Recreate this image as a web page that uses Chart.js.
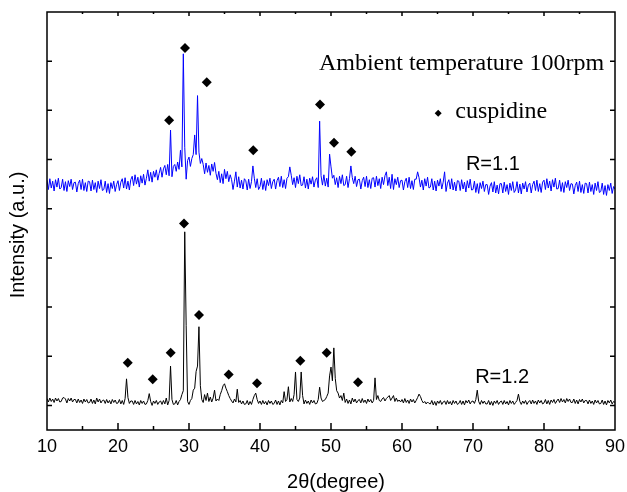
<!DOCTYPE html>
<html>
<head>
<meta charset="utf-8">
<script src="https://cdn.jsdelivr.net/npm/chart.js@4"></script>
<style>
  html, body { margin: 0; padding: 0; background: #fff; }
  canvas { display: block; }
</style>
</head>
<body>
<canvas id="xrdChart" width="627" height="492"></canvas>
<script>
// 2theta grid: 10 to 90 degrees, step 0.2
const startAngle = 10;
const stepAngle = 0.2;

// R=1.2 (black, lower pattern), 2 degrees per row
const r12 = [
  .14,.07,.15,.08,.13,.06,.15,.09,.14,.07,
  .08,.15,.16,.13,.05,.14,.09,.15,.07,.12,
  .12,.05,.13,.06,.11,.04,.13,.07,.12,.05,
  .06,.13,.04,.11,.03,.15,.07,.13,.05,.10,
  .11,.04,.12,.05,.10,.03,.12,.06,.11,.04,
  .05,.12,.03,.10,.02,.14,.54,.16,.04,.09,
  .09,.02,.10,.03,.08,.01,.10,.04,.09,.02,
  .03,.10,.24,.08,.00,.09,.04,.10,.02,.07,
  .09,.02,.10,.03,.15,.01,.10,.80,.12,.02,
  .03,.10,.01,.08,.12,.22,.30,3.53,1.63,.08,
  .02,.10,.14,.31,.35,.69,.80,1.60,.40,.12,
  .06,.22,.10,.25,.08,.17,.07,.15,.31,.09,
  .13,.10,.22,.30,.40,.44,.35,.28,.20,.14,
  .09,.05,.13,.07,.33,.06,.10,.03,.09,.02,
  .03,.10,.01,.08,.02,.12,.20,.25,.12,.04,
  .09,.02,.10,.03,.08,.01,.10,.04,.09,.02,
  .04,.11,.02,.09,.01,.10,.05,.28,.08,.12,
  .38,.07,.14,.08,.22,.68,.12,.08,.15,.68,
  .20,.03,.11,.04,.09,.02,.11,.05,.10,.03,
  .04,.12,.37,.15,.08,.10,.12,.18,.25,.60,
  .78,.50,1.17,.55,.30,.25,.15,.20,.10,.25,
  .06,.13,.04,.11,.03,.15,.07,.13,.05,.10,
  .12,.05,.14,.06,.11,.04,.13,.07,.12,.05,
  .10,.56,.12,.20,.10,.08,.13,.16,.09,.14,
  .17,.20,.10,.15,.20,.08,.15,.08,.11,.07,
  .12,.05,.14,.06,.11,.04,.13,.07,.12,.05,
  .10,.16,.23,.18,.10,.05,.08,.03,.07,.04,
  .03,.10,.01,.08,.00,.09,.04,.10,.02,.07,
  .09,.02,.10,.03,.08,.01,.10,.04,.09,.02,
  .04,.10,.02,.09,.01,.10,.05,.11,.03,.08,
  .09,.04,.12,.31,.08,.02,.10,.04,.09,.03,
  .03,.10,.01,.08,.00,.09,.04,.10,.02,.07,
  .09,.02,.10,.03,.08,.01,.10,.04,.09,.02,
  .06,.10,.23,.08,.02,.09,.04,.10,.02,.07,
  .10,.03,.11,.04,.09,.02,.11,.05,.10,.03,
  .05,.12,.03,.10,.02,.11,.06,.12,.04,.09,
  .13,.06,.14,.07,.12,.05,.14,.08,.13,.06,
  .06,.13,.04,.11,.03,.12,.07,.13,.05,.10,
  .10,.03,.11,.04,.09,.02,.11,.05,.10,.03,
  .04,.11,.02,.09,.01,.10,.05,.11,.03,.08,
  .06
];

// R=1.1 (blue, upper pattern, offset)
const r11 = [
  4.58,4.39,4.61,4.42,4.56,4.36,4.59,4.44,4.62,4.40,
  4.43,4.60,4.37,4.55,4.35,4.57,4.45,4.60,4.39,4.53,
  4.54,4.34,4.51,4.58,4.39,4.60,4.37,4.53,4.35,4.56,
  4.55,4.36,4.58,4.39,4.53,4.33,4.56,4.41,4.59,4.37,
  4.39,4.56,4.33,4.51,4.31,4.53,4.41,4.56,4.35,4.49,
  4.57,4.37,4.54,4.61,4.42,4.63,4.40,4.56,4.38,4.59,
  4.66,4.47,4.69,4.50,4.64,4.44,4.67,4.52,4.70,4.48,
  4.62,4.79,4.56,4.74,4.54,4.76,4.64,4.79,4.58,4.72,
  4.84,4.64,4.81,4.88,4.69,4.90,4.67,5.60,4.65,4.86,
  4.90,4.76,4.95,4.80,5.19,4.85,7.15,5.25,4.60,4.98,
  5.05,4.86,5.02,5.10,5.50,5.10,6.30,5.15,4.92,5.02,
  4.90,4.71,4.93,4.74,4.88,4.68,4.91,4.76,4.94,4.72,
  4.59,4.76,4.53,4.71,4.51,4.80,4.61,4.76,4.55,4.69,
  4.59,4.39,4.56,4.75,4.44,4.65,4.42,4.58,4.40,4.61,
  4.57,4.38,4.60,4.41,4.55,4.87,4.62,4.43,4.61,4.39,
  4.45,4.62,4.39,4.57,4.37,4.59,4.47,4.62,4.41,4.55,
  4.60,4.40,4.57,4.64,4.45,4.66,4.43,4.59,4.41,4.62,
  4.65,4.85,4.68,4.49,4.63,4.43,4.66,4.51,4.69,4.47,
  4.48,4.65,4.42,4.60,4.40,4.62,4.50,4.65,4.44,4.58,
  4.63,4.43,5.78,4.67,4.48,4.69,4.46,4.62,4.44,5.11,
  4.85,4.62,4.68,4.49,4.63,4.43,4.66,4.51,4.69,4.47,
  4.49,4.66,4.43,4.61,4.87,4.63,4.51,4.66,4.45,4.59,
  4.60,4.40,4.57,4.64,4.45,4.66,4.43,4.59,4.41,4.62,
  4.63,4.44,4.66,4.47,4.61,4.41,4.64,4.49,4.67,4.75,
  4.47,4.64,4.41,4.70,4.39,4.61,4.49,4.64,4.43,4.57,
  4.58,4.38,4.55,4.62,4.43,4.64,4.41,4.57,4.39,4.60,
  4.60,4.75,4.63,4.44,4.58,4.38,4.61,4.46,4.64,4.42,
  4.44,4.61,4.38,4.56,4.36,4.58,4.46,4.61,4.40,4.54,
  4.75,4.35,4.52,4.59,4.40,4.61,4.38,4.54,4.36,4.57,
  4.56,4.37,4.59,4.40,4.54,4.34,4.57,4.42,4.60,4.38,
  4.39,4.56,4.33,4.51,4.31,4.53,4.41,4.56,4.35,4.49,
  4.49,4.29,4.46,4.53,4.34,4.55,4.32,4.48,4.30,4.51,
  4.51,4.32,4.54,4.35,4.49,4.29,4.52,4.37,4.55,4.33,
  4.38,4.55,4.32,4.50,4.30,4.52,4.40,4.55,4.34,4.48,
  4.52,4.32,4.49,4.56,4.37,4.58,4.35,4.51,4.33,4.54,
  4.58,4.39,4.61,4.42,4.56,4.36,4.59,4.44,4.62,4.40,
  4.41,4.58,4.35,4.53,4.33,4.55,4.43,4.58,4.37,4.51,
  4.50,4.30,4.47,4.54,4.35,4.56,4.33,4.49,4.31,4.52,
  4.51,4.32,4.54,4.35,4.49,4.29,4.52,4.37,4.55,4.33,
  4.35,4.52,4.29,4.47,4.27,4.49,4.37,4.52,4.31,4.45,
  4.40
];

// cuspidine markers
const markX11 = [27.2, 29.44, 32.5, 39.05, 48.45, 50.42, 52.86];
const markY11 = [5.80, 7.27, 6.57, 5.19, 6.12, 5.34, 5.16];
const markX12 = [21.37, 24.89, 27.42, 29.3, 31.41, 35.59, 39.58, 45.68, 49.39, 53.8];
const markY12 = [0.87, 0.53, 1.07, 3.70, 1.84, 0.63, 0.45, 0.91, 1.07, 0.47];

const xTicks = [10, 20, 30, 40, 50, 60, 70, 80, 90];

const angles = r12.map((v, i) => +(startAngle + i * stepAngle).toFixed(1));
const toPoints = (xs, ys) => xs.map((x, i) => ({ x: x, y: ys[i] }));

const frameAndText = {
  id: 'frameAndText',
  afterDraw(chart) {
    const ctx = chart.ctx;
    const a = chart.chartArea;
    const xs = chart.scales.x;
    const ys = chart.scales.y;
    ctx.save();
    ctx.strokeStyle = '#000';
    ctx.lineWidth = 1.5;
    ctx.strokeRect(a.left, a.top, a.right - a.left, a.bottom - a.top);

    // x ticks, inward, top and bottom
    for (let v = 15; v < 90; v += 5) {
      const px = xs.getPixelForValue(v);
      const major = v % 10 === 0;
      ctx.beginPath();
      ctx.moveTo(px, a.bottom);
      ctx.lineTo(px, a.bottom - (major ? 7 : 4));
      ctx.moveTo(px, a.top);
      ctx.lineTo(px, a.top + (major ? 4 : 2));
      ctx.stroke();
    }
    // y ticks, inward, left and right
    for (let v = 0; v < 8; v++) {
      const py = ys.getPixelForValue(v);
      ctx.beginPath();
      ctx.moveTo(a.left, py);
      ctx.lineTo(a.left + 5, py);
      ctx.moveTo(a.right, py);
      ctx.lineTo(a.right - 5, py);
      ctx.stroke();
    }

    ctx.fillStyle = '#000';
    ctx.textBaseline = 'alphabetic';
    ctx.font = '24px "Liberation Serif", "Times New Roman", serif';
    ctx.textAlign = 'left';
    ctx.fillText('Ambient temperature 100rpm', xs.getPixelForValue(48.3), ys.getPixelForValue(6.82));
    ctx.fillText('cuspidine', xs.getPixelForValue(67.5), ys.getPixelForValue(5.84));

    ctx.font = '20px "Liberation Sans", Arial, sans-serif';
    ctx.textAlign = 'center';
    ctx.fillText('R=1.1', xs.getPixelForValue(72.8), ys.getPixelForValue(4.79));
    ctx.fillText('R=1.2', xs.getPixelForValue(74.1), ys.getPixelForValue(0.45));

    // axis titles
    ctx.fillText('2θ(degree)', 336, 488);
    ctx.translate(18, 235);
    ctx.rotate(-Math.PI / 2);
    ctx.textBaseline = 'middle';
    ctx.fillText('Intensity (a.u.)', 0, 0);
    ctx.restore();
  }
};

new Chart(document.getElementById('xrdChart').getContext('2d'), {
  type: 'line',
  data: {
    datasets: [
      {
        type: 'scatter',
        data: toPoints(markX11, markY11),
        pointStyle: 'rectRot',
        pointRadius: 5,
        backgroundColor: '#000',
        borderColor: '#000',
        borderWidth: 0
      },
      {
        type: 'scatter',
        data: toPoints(markX12, markY12),
        pointStyle: 'rectRot',
        pointRadius: 5,
        backgroundColor: '#000',
        borderColor: '#000',
        borderWidth: 0
      },
      {
        type: 'scatter',
        data: [{ x: 65.1, y: 5.94 }],
        pointStyle: 'rectRot',
        pointRadius: 3.5,
        backgroundColor: '#000',
        borderColor: '#000',
        borderWidth: 0
      },
      {
        data: toPoints(angles, r11),
        borderColor: '#0000ff',
        borderWidth: 1,
        pointRadius: 0,
        tension: 0
      },
      {
        data: toPoints(angles, r12),
        borderColor: '#000000',
        borderWidth: 1,
        pointRadius: 0,
        tension: 0
      }
    ]
  },
  options: {
    responsive: false,
    animation: false,
    events: [],
    layout: { padding: { left: 47, top: 12, right: 12, bottom: 0 } },
    plugins: { legend: { display: false }, tooltip: { enabled: false } },
    scales: {
      x: {
        type: 'linear',
        min: 10,
        max: 90,
        afterFit(scale) {
          scale.height = 62;
          scale.paddingLeft = 0;
          scale.paddingRight = 0;
        },
        afterBuildTicks(scale) { scale.ticks = xTicks.map(v => ({ value: v })); },
        grid: { display: false },
        border: { display: false },
        ticks: {
          color: '#000',
          padding: -2,
          maxRotation: 0,
          font: { family: '"Liberation Sans", Arial, sans-serif', size: 18 }
        }
      },
      y: {
        display: false,
        min: -0.5,
        max: 8
      }
    }
  },
  plugins: [frameAndText]
});
</script>
</body>
</html>
